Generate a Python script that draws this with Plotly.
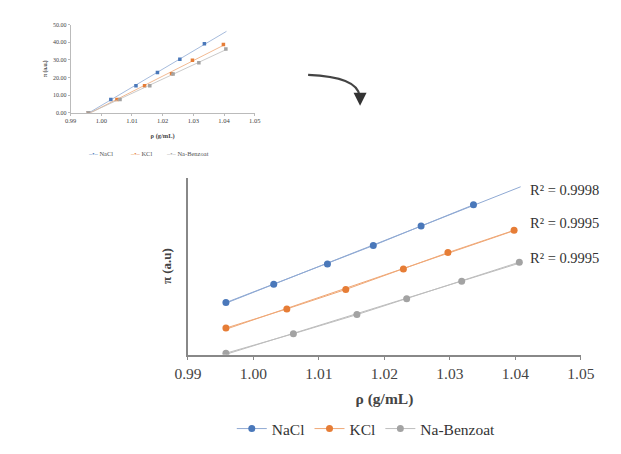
import numpy as np
import plotly.graph_objects as go

# densidade (g/mL) de cada série
rho_nacl = [0.9958, 1.0031, 1.0113, 1.0183, 1.0256, 1.0336]
rho_kcl = [0.9958, 1.0051, 1.0141, 1.0229, 1.0297, 1.0398]
rho_benz = [0.9958, 1.0061, 1.0158, 1.0234, 1.0318, 1.0406]

# gráfico pequeno (canto superior)
pi_nacl = [0.0, 7.4, 15.2, 22.8, 30.3, 39.1]
pi_kcl = [0.0, 7.4, 15.2, 22.1, 29.8, 38.7]
pi_benz = [0.0, 7.4, 15.2, 22.0, 28.3, 36.1]

# gráfico principal (a.u.)
au_nacl = [14.7, 19.9, 25.6, 30.8, 36.3, 42.3]
au_kcl = [7.5, 12.9, 18.4, 24.2, 28.8, 35.1]
au_benz = [0.4, 5.9, 11.3, 15.8, 20.7, 26.1]

names = ["NaCl", "KCl", "Na-Benzoat"]
r2_labels = ["R² = 0.9998", "R² = 0.9995", "R² = 0.9995"]
trend_end = [1.0408, 1.0398, 1.0406]
x_ticks = [0.99, 1.00, 1.01, 1.02, 1.03, 1.04, 1.05]
y_ticks_inset = [0, 10, 20, 30, 40, 50]

colors = ["#4a78ba", "#e67d36", "#a3a3a3"]
line_colors = ["#8fa9d3", "#efa877", "#bdbdbd"]
serif = "Liberation Serif"

# a página tem 8px de margem no body: figura menor para caber na janela
W, H, PAD = 605, 438, 8


def px_x(v):
    return (v - PAD) / W


def px_y(v):
    return 1 - (v - PAD) / H


fig = go.Figure()

rhos = [rho_nacl, rho_kcl, rho_benz]
pis = [pi_nacl, pi_kcl, pi_benz]
aus = [au_nacl, au_kcl, au_benz]

for i in range(3):
    # linha de tendência (ajuste linear)
    for ys, xa, ya in [(pis[i], "x", "y"), (aus[i], "x2", "y2")]:
        k, b = np.polyfit(rhos[i], ys, 1)
        xs = np.array([rhos[i][0], trend_end[i]])
        fig.add_trace(go.Scatter(
            x=xs, y=k * xs + b, mode="lines", xaxis=xa, yaxis=ya,
            line=dict(color=line_colors[i], width=1 if xa == "x2" else 0.8),
            showlegend=False, hoverinfo="skip"
        ))
    # pontos - inset
    fig.add_trace(go.Scatter(
        x=rhos[i], y=pis[i], mode="markers", name=names[i],
        xaxis="x", yaxis="y", showlegend=False,
        marker=dict(size=3.5, color=colors[i], symbol="square")
    ))
    # pontos - principal
    fig.add_trace(go.Scatter(
        x=rhos[i], y=aus[i], mode="lines+markers", name=names[i],
        xaxis="x2", yaxis="y2",
        marker=dict(size=7, color=colors[i]),
        line=dict(color=line_colors[i], width=1)
    ))

# legenda do gráfico pequeno
for i, xl in enumerate([75, 119, 157]):
    fig.add_annotation(
        x=px_x(xl), y=px_y(155), xref="paper", yref="paper",
        xanchor="left", yanchor="middle", showarrow=False,
        text=f"<span style='color:{colors[i]}'>–•–</span> {names[i]}",
        font=dict(family=serif, size=6.5, color="#555555")
    )

# R² labels
for i, yv in enumerate([46.4, 37.2, 27.3]):
    fig.add_annotation(
        x=1.0475, y=yv, xref="x2", yref="y2", text=r2_labels[i],
        showarrow=False, font=dict(family=serif, size=14.5, color="#333333")
    )

# seta curva
fig.add_shape(
    type="path", xref="paper", yref="paper",
    path=f"M {px_x(308)},{px_y(74)} Q {px_x(360)},{px_y(76)} {px_x(362)},{px_y(96)}",
    line=dict(color="#444444", width=2.2)
)
fig.add_annotation(
    x=px_x(362.5), y=px_y(106), xref="paper", yref="paper", text="",
    showarrow=True, ax=0, ay=-9, arrowhead=2, arrowsize=1.3,
    arrowwidth=2, arrowcolor="#333333"
)

axis_font = dict(family=serif, color="#444444")

fig.update_layout(
    width=W, height=H,
    margin=dict(l=0, r=0, t=0, b=0),
    paper_bgcolor="white", plot_bgcolor="white",
    font=dict(family=serif, color="#333333"),
    xaxis=dict(
        domain=[px_x(59), px_x(252)], range=[0.99, 1.05], anchor="y",
        tickvals=x_ticks, tickformat=".2f", ticks="outside", ticklen=2,
        tickcolor="#bbbbbb", showline=True, linecolor="#bbbbbb", linewidth=1,
        showgrid=False, zeroline=False, tickfont=dict(size=6.5, **axis_font),
        title=dict(text="<b>ρ (g/mL)</b>", font=dict(size=6.5, **axis_font), standoff=10)
    ),
    yaxis=dict(
        domain=[px_y(113), px_y(22)], range=[0, 50], anchor="x",
        tickvals=y_ticks_inset, tickformat=".2f", ticks="outside", ticklen=2,
        tickcolor="#bbbbbb", showline=True, linecolor="#bbbbbb", linewidth=1,
        showgrid=False, zeroline=False, tickfont=dict(size=6, **axis_font),
        title=dict(text="<b>π (a.u.)</b>", font=dict(size=5.5, **axis_font), standoff=5)
    ),
    xaxis2=dict(
        domain=[px_x(182), px_x(594)], range=[0.99, 1.05], anchor="y2",
        tickvals=x_ticks, tickformat=".2f", ticks="outside", ticklen=4,
        tickcolor="#888888", showline=True, linecolor="#888888", linewidth=1.5,
        showgrid=False, zeroline=False, tickfont=dict(size=15.5, **axis_font),
        title=dict(text="<b>ρ (g/mL)</b>", font=dict(size=15.5, **axis_font), standoff=12)
    ),
    yaxis2=dict(
        domain=[px_y(363), px_y(180)], range=[0, 50], anchor="x2",
        showticklabels=False, ticks="", showline=True, linecolor="#888888",
        linewidth=1.5, showgrid=False, zeroline=False,
        title=dict(text="<b>π (a.u)</b>", font=dict(size=13, **axis_font), standoff=12)
    ),
    legend=dict(
        orientation="h", x=px_x(369), xanchor="center", y=px_y(440), yanchor="middle",
        font=dict(family=serif, size=15.5, color="#333333"), itemwidth=30,
        bgcolor="rgba(0,0,0,0)"
    ),
)

fig.write_html("out.html")
